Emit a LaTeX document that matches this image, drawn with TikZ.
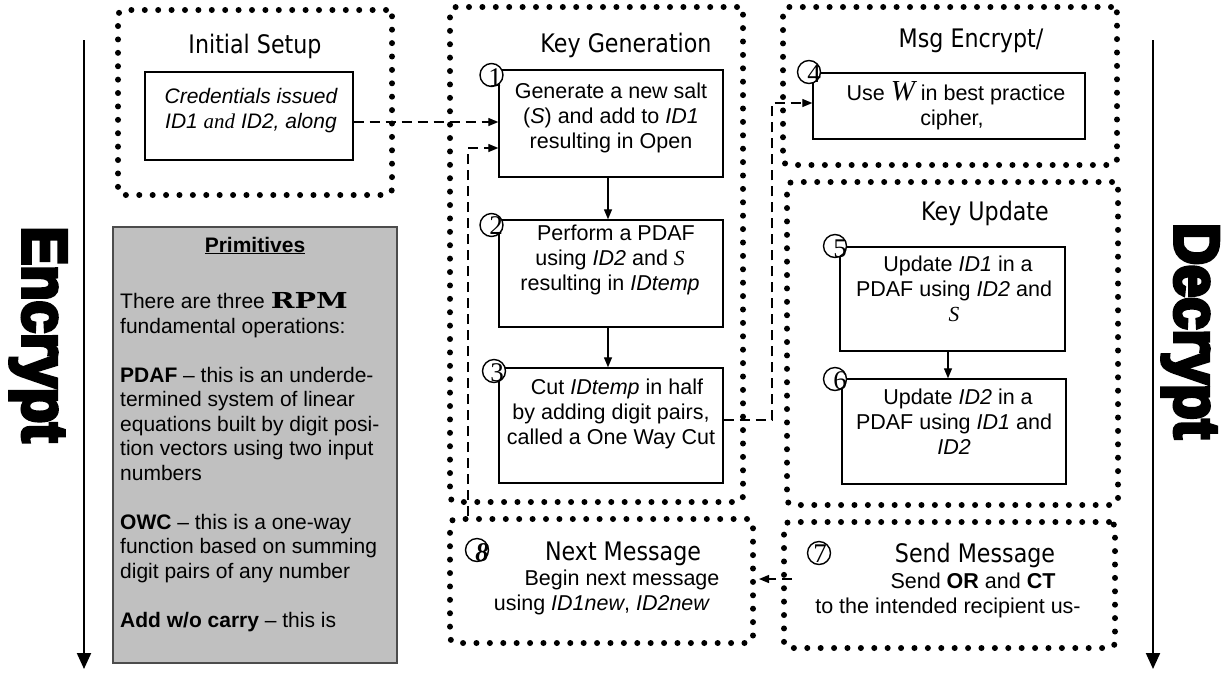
\documentclass[tikz,border=0pt]{standalone}
\usepackage{fontspec}
\setmainfont{Liberation Sans}
\newfontfamily\titlefont{DejaVu Sans}[FakeStretch=0.87]
\newfontfamily\tmsfont{Liberation Serif}
\newfontfamily\slabfont{DejaVu Serif}[FakeStretch=1.3]
\newfontfamily\heavyfont{Liberation Sans}[BoldFeatures={FakeBold=6,FakeStretch=0.92}]
\usetikzlibrary{arrows.meta}
\newcommand\bxfont{\fontsize{21.5pt}{25pt}\selectfont}
\newcommand\prfont{\fontsize{21pt}{24.5pt}\selectfont}
\newcommand\ttlfont{\titlefont\fontsize{25.5pt}{30pt}\selectfont}
\newcommand\tI[1]{{\tmsfont\itshape #1}}
\tikzset{
 dotbox/.style={draw, line width=6pt, dash pattern=on 0pt off 13.4pt, line cap=round, rounded corners=6pt, inner sep=0pt},
 procbox/.style={draw, line width=1.4pt, fill=white, inner sep=0pt},
 primbox/.style={draw=black!70, line width=1.4pt, fill={rgb,255:red,192;green,192;blue,192}, inner sep=0pt},
 numcirc/.style={circle, draw, line width=1.4pt, fill=white, minimum size=23pt, inner sep=0pt},
 numtxt/.style={font=\tmsfont\fontsize{27pt}{27pt}\selectfont, inner sep=0pt},
 flowarrow/.style={line width=1.3pt, -{Triangle[width=8pt,length=10pt]}},
 dasharrow/.style={line width=1.3pt, dash pattern=on 10pt off 6pt, -{Triangle[width=8pt,length=10pt]}},
 sidearrow/.style={line width=2pt, -{Triangle[width=14pt,length=16pt]}},
 ttl/.style={font=\ttlfont, inner sep=0pt, anchor=base},
 txt/.style={font=\bxfont, align=center, inner sep=0pt, anchor=base},
 sidetxt/.style={rotate=-90, anchor=base, font=\heavyfont\bfseries\fontsize{63pt}{63pt}\selectfont, inner sep=0pt},
}
\begin{document}
\begin{tikzpicture}[x=1pt,y=-1pt]
\useasboundingbox (0,0) rectangle (1225,673);

% side arrows and labels
\coordinate (et) at (84,40);
\coordinate (eb) at (84,669);
\draw[sidearrow] (et) -- (eb);
\node[sidetxt] (enc) at (23,334.5) {Encrypt};
\coordinate (dt) at (1153,40);
\coordinate (db) at (1153,669);
\draw[sidearrow] (dt) -- (db);
\node[sidetxt] (dec) at (1175,331) {Decrypt};

% dotted group boxes
\node[dotbox, minimum width=274pt, minimum height=185pt] (is) at (255,102.5) {};
\node[dotbox, minimum width=293pt, minimum height=495pt] (kg) at (596.5,254.5) {};
\node[dotbox, minimum width=334pt, minimum height=158pt] (me) at (950,86) {};
\node[dotbox, minimum width=331pt, minimum height=323pt] (ku) at (952.5,343.5) {};
\node[dotbox, minimum width=303pt, minimum height=124pt] (nm) at (601.5,581) {};
\node[dotbox, minimum width=331pt, minimum height=126pt] (sm) at (949.5,585) {};

% titles
\node[ttl] (ist) at (255,53) {Initial Setup};
\node[ttl] (kgt) at (626,52) {Key Generation};
\node[ttl] (met) at (971,47) {Msg Encrypt/};
\node[ttl] (kut) at (985,220) {Key Update};
\node[ttl] (nmt) at (623,560) {Next Message};
\node[ttl] (smt) at (975,562) {Send Message};

% inner boxes
\node[procbox, minimum width=208pt, minimum height=88pt] (is1) at (249,116) {};
\node[primbox, minimum width=284pt, minimum height=436pt] (prim) at (255,445) {};
\node[procbox, minimum width=224pt, minimum height=107pt] (b1) at (611,123.5) {};
\node[procbox, minimum width=224pt, minimum height=107pt] (b2) at (611,273.5) {};
\node[procbox, minimum width=224pt, minimum height=115pt] (b3) at (611,425.5) {};
\node[procbox, minimum width=272pt, minimum height=66pt] (b4) at (949,106) {};
\node[procbox, minimum width=225pt, minimum height=104pt] (b5) at (952.5,299) {};
\node[procbox, minimum width=224pt, minimum height=105pt] (b6) at (954,431.5) {};

% texts (anchor base = baseline of the last line)
\node[txt, font=\fontsize{21pt}{25pt}\selectfont\itshape] (is1t) at (251,128) {Credentials issued\\ID1 \tI{and} ID2, along};
\node[txt] (b1t) at (611,148) {Generate a new salt\\(\textit{S}) and add to \textit{ID1}\\resulting in Open};
\node[txt] (b2t) at (610,290) {\hspace{12pt}Perform a PDAF\\using \textit{ID2} and \tI{S}\\resulting in \textit{IDtemp}};
\node[txt] (b3t) at (611,444) {\hspace{12pt}Cut \textit{IDtemp} in half\\by adding digit pairs,\\called a One Way Cut};
\node[txt] (b4t) at (952,125) {\hspace{8pt}Use {\tmsfont\itshape\fontsize{29pt}{25pt}\selectfont W} in best practice\\cipher,};
\node[txt] (b5t) at (954,321) {\hspace{8pt}Update \textit{ID1} in a\\PDAF using \textit{ID2} and\\\tI{S}};
\node[txt] (b6t) at (954,454) {\hspace{8pt}Update \textit{ID2} in a\\PDAF using \textit{ID1} and\\\textit{ID2}};
\node[txt] (sm1) at (973,588) {Send \textbf{OR} and \textbf{CT}};
\node[txt] (sm2) at (948,613) {to the intended recipient us-};
\node[txt] (nm1) at (622,585) {Begin next message};
\node[txt] (nm2) at (602,610) {using \textit{ID1new}, \textit{ID2new}};

% primitives
\node[txt, font=\prfont] (primt) at (255,252) {\underline{\textbf{Primitives}}};
\node[inner sep=0pt, anchor=base west, align=left, font=\prfont] (primb) at (120,627) {There are three {\slabfont\bfseries\fontsize{22pt}{22pt}\selectfont RPM}\\
fundamental operations:\\[24.5pt]
\textbf{PDAF} – this is an underde-\\
termined system of linear\\
equations built by digit posi-\\
tion vectors using two input\\
numbers\\[24.5pt]
\textbf{OWC} – this is a one-way\\
function based on summing\\
digit pairs of any number\\[24.5pt]
\textbf{Add w/o carry} – this is};

% numbered circles
\node[numcirc] (n1) at (491.5,75) {};
\node[numtxt] (n1t) at (495,78) {1};
\node[numcirc] (n2) at (491.5,225) {};
\node[numtxt] (n2t) at (496,226) {2};
\node[numcirc] (n3) at (494,371) {};
\node[numtxt] (n3t) at (497,373) {3};
\node[numcirc] (n4) at (809,72) {};
\node[numtxt] (n4t) at (814,74) {4};
\node[numcirc] (n5) at (835,246) {};
\node[numtxt] (n5t) at (840,249) {5};
\node[numcirc] (n6) at (835,379) {};
\node[numtxt] (n6t) at (840,381) {6};
\node[numcirc] (n7) at (819,553) {};
\node[numtxt] (n7t) at (820,554) {7};
\node[numcirc] (n8) at (477,550) {};
\node[numtxt, font=\tmsfont\itshape\bfseries\fontsize{27pt}{27pt}\selectfont] (n8t) at (482,553) {8};

% solid flow arrows
\draw[flowarrow] ([xshift=-3pt]b1.south) -- ([xshift=-3pt]b2.north);
\draw[flowarrow] ([xshift=-3pt]b2.south) -- ([xshift=-3pt]b3.north);
\draw[flowarrow] ([xshift=-4.5pt]b5.south) -- ([xshift=-4.5pt]b5.south |- b6.north);

% dashed connectors
\coordinate (c1) at (300,122);
\draw[dasharrow] (is1.east |- c1) -- (b1.west |- c1);
\coordinate (k1) at (772,420);
\coordinate (k2) at (772,103);
\draw[dasharrow] (b3.east |- k1) -- (k1) -- (k2) -- (b4.west |- k2);
\coordinate (k4) at (468,148);
\draw[dasharrow] (nm.north -| k4) -- (k4) -- (b1.west |- k4);
\coordinate (k5) at (792,579);
\draw[dasharrow] (k5) -- ([xshift=3pt]nm.east |- k5);
\end{tikzpicture}
\end{document}
